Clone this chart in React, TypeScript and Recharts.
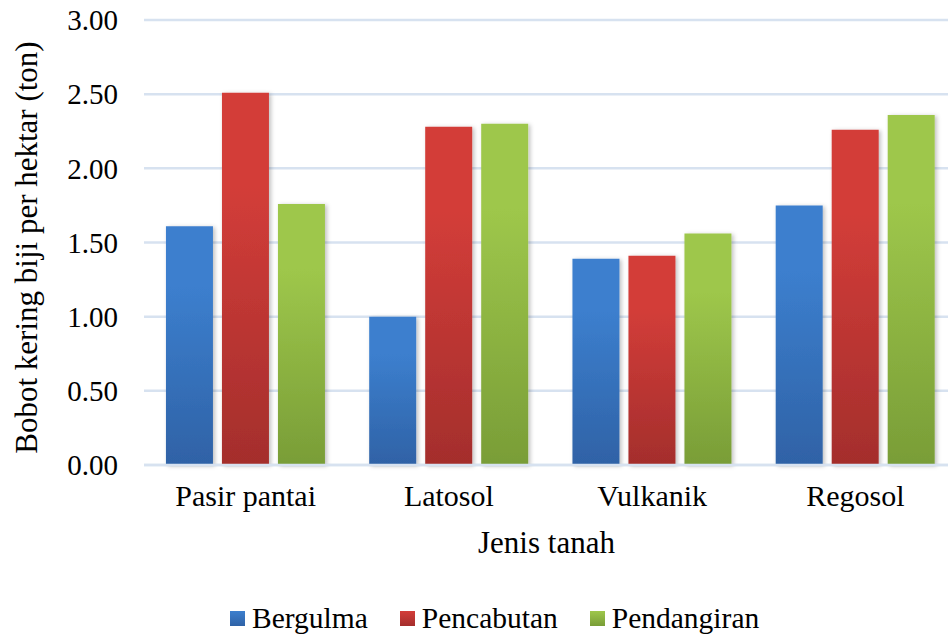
import { BarChart, Bar, XAxis, YAxis, CartesianGrid, Legend, Label } from "recharts";

const soilTypes = ["Pasir pantai", "Latosol", "Vulkanik", "Regosol"];
const bergulma = [1.61, 1.0, 1.39, 1.75];
const pencabutan = [2.51, 2.28, 1.41, 2.26];
const pendangiran = [1.76, 2.3, 1.56, 2.36];
const yTicks = [0, 0.5, 1, 1.5, 2, 2.5, 3];

const series = [
  { key: "bergulma", name: "Bergulma", top: "#3c7fce", bottom: "#2f62a6" },
  { key: "pencabutan", name: "Pencabutan", top: "#d33d39", bottom: "#a42e2c" },
  { key: "pendangiran", name: "Pendangiran", top: "#9ec74b", bottom: "#799d37" },
];

const data = soilTypes.map((name, i) => ({
  name,
  bergulma: bergulma[i],
  pencabutan: pencabutan[i],
  pendangiran: pendangiran[i],
}));

const FONT = "'Liberation Serif', 'Times New Roman', serif";
const GRID = "#d7e2f0";

const renderLegend = () => (
  <div style={{ display: "flex", alignItems: "center", height: 36, lineHeight: "30px", fontFamily: FONT, fontSize: 29.5, color: "#000", paddingLeft: 230 }}>
    {series.map((s) => (
      <div key={s.key} style={{ display: "flex", alignItems: "center", marginRight: 32 }}>
        <div
          style={{
            width: 15,
            height: 15,
            marginRight: 7,
            background: `linear-gradient(${s.top}, ${s.bottom})`,
          }}
        />
        <span>{s.name}</span>
      </div>
    ))}
  </div>
);

export default function App() {
  return (
    <div style={{ position: "absolute", top: 0, left: 0, background: "#fff", width: 948, height: 636, overflow: "hidden" }}>
      <BarChart
        width={948}
        height={636}
        data={data}
        margin={{ top: 20, right: -9, left: 0, bottom: 0 }}
        barCategoryGap="10.8%"
        barGap={9}
      >
        <defs>
          {series.map((s) => (
            <linearGradient key={s.key} id={`grad-${s.key}`} x1="0" y1="0" x2="0" y2="1">
              <stop offset="0%" stopColor={s.top} />
              <stop offset="25%" stopColor={s.top} />
              <stop offset="100%" stopColor={s.bottom} />
            </linearGradient>
          ))}
          <filter id="barShadow" x="-20%" y="-10%" width="140%" height="120%">
            <feDropShadow dx="2" dy="1" stdDeviation="2" floodColor="#000" floodOpacity="0.25" />
          </filter>
        </defs>
        <CartesianGrid vertical={false} stroke={GRID} strokeWidth={2.5} />
        <XAxis
          dataKey="name"
          height={135}
          axisLine={{ stroke: GRID, strokeWidth: 2.5 }}
          tickLine={false}
          tickMargin={14}
          tick={{ fill: "#000", fontSize: 30, fontFamily: FONT }}
        >
          <Label
            content={({ viewBox }: any) => (
              <text
                x={viewBox.x + viewBox.width / 2 - 4}
                y={viewBox.y + 81}
                textAnchor="middle"
                dominantBaseline="middle"
                style={{ fontFamily: FONT, fontSize: 31 }}
                fill="#000"
              >
                Jenis tanah
              </text>
            )}
          />
        </XAxis>
        <YAxis
          width={144}
          domain={[0, 3]}
          ticks={yTicks}
          interval={0}
          axisLine={false}
          tickLine={false}
          tickMargin={20}
          tickFormatter={(v: number) => v.toFixed(2)}
          tick={{ fill: "#000", fontSize: 29, fontFamily: FONT }}
        >
          <Label
            content={({ viewBox }: any) => {
              const cx = 30;
              const cy = viewBox.y + viewBox.height / 2 + 5;
              return (
                <text
                  x={cx}
                  y={cy}
                  transform={`rotate(-90, ${cx}, ${cy})`}
                  textAnchor="middle"
                  dominantBaseline="middle"
                  style={{ fontFamily: FONT, fontSize: 31 }}
                  fill="#000"
                >
                  Bobot kering biji per hektar (ton)
                </text>
              );
            }}
          />
        </YAxis>
        <Legend
          verticalAlign="bottom"
          height={36}
          wrapperStyle={{ width: 948, left: 0, top: 600 }}
          content={renderLegend}
        />
        {series.map((s) => (
          <Bar
            key={s.key}
            dataKey={s.key}
            name={s.name}
            fill={`url(#grad-${s.key})`}
            filter="url(#barShadow)"
            isAnimationActive={false}
          />
        ))}
      </BarChart>
    </div>
  );
}
